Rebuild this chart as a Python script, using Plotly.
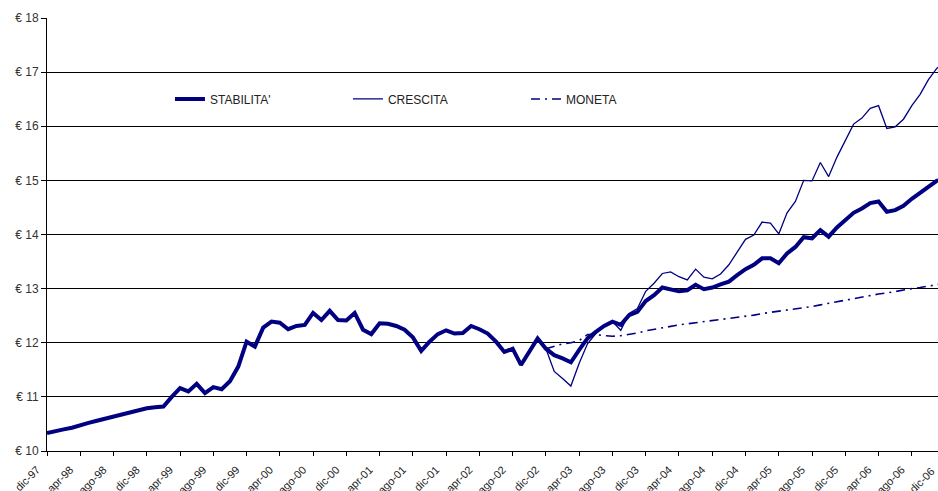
import plotly.graph_objects as go

# ---------------- data ----------------
MESI = ['gen', 'feb', 'mar', 'apr', 'mag', 'giu', 'lug', 'ago', 'set', 'ott', 'nov', 'dic']
ANNI = [98, 99, 0, 1, 2, 3, 4, 5, 6]
mesi_labels = ['dic-97'] + [f"{m}-{a:02d}" for a in ANNI for m in MESI]   # dic-97 .. dic-06

stabilita = [
    10.33, 10.37, 10.40, 10.43, 10.48, 10.52, 10.56, 10.60, 10.64, 10.68,
    10.72, 10.75, 10.79, 10.81, 10.82, 11.00, 11.16, 11.10, 11.24, 11.07,
    11.18, 11.14, 11.29, 11.56, 12.02, 11.93, 12.28, 12.39, 12.37, 12.25,
    12.31, 12.33, 12.55, 12.42, 12.59, 12.42, 12.41, 12.55, 12.24, 12.16,
    12.36, 12.35, 12.31, 12.24, 12.10, 11.85, 12.02, 12.16, 12.23, 12.17,
    12.18, 12.31, 12.25, 12.17, 12.02, 11.83, 11.89, 11.59, 11.84, 12.08,
    11.89, 11.77, 11.71, 11.64, 11.87, 12.08, 12.20, 12.31, 12.39, 12.33,
    12.51, 12.57, 12.77, 12.88, 13.02, 12.99, 12.95, 12.97, 13.07, 12.99,
    13.02, 13.08, 13.13, 13.25, 13.36, 13.44, 13.56, 13.56, 13.47, 13.65,
    13.77, 13.95, 13.93, 14.08, 13.96, 14.13, 14.27, 14.40, 14.48, 14.58,
    14.61, 14.42, 14.45, 14.53, 14.66, 14.77, 14.90, 14.99, 15.04,
]

# CRESCITA and MONETA start at dic-02
crescita_labels = mesi_labels[60:]
crescita = [
    11.89, 11.47, 11.34, 11.20, 11.62, 11.98, 12.17, 12.31, 12.39, 12.23,
    12.54, 12.63, 12.95, 13.10, 13.28, 13.31, 13.22, 13.16, 13.36, 13.21,
    13.18, 13.27, 13.44, 13.68, 13.91, 13.99, 14.23, 14.21, 14.01, 14.40,
    14.61, 15.00, 14.99, 15.33, 15.07, 15.43, 15.74, 16.04, 16.15, 16.33,
    16.38, 15.96, 15.99, 16.13, 16.38, 16.59, 16.86, 17.07, 17.20,
]
moneta = [
    11.89, 11.93, 11.98, 12.00, 12.04, 12.15, 12.15, 12.13, 12.12, 12.13,
    12.15, 12.18, 12.22, 12.25, 12.28, 12.31, 12.33, 12.35, 12.37, 12.39,
    12.40, 12.42, 12.44, 12.46, 12.48, 12.51, 12.54, 12.56, 12.58, 12.60,
    12.63, 12.65, 12.67, 12.70, 12.73, 12.76, 12.78, 12.81, 12.84, 12.87,
    12.90, 12.92, 12.95, 12.97, 13.00, 13.02, 13.05, 13.08, 13.10,
]

tick_labels = mesi_labels[::4]          # dic-97, apr-98, ago-98, ...
y_ticks = [10, 11, 12, 13, 14, 15, 16, 17, 18]

# ---------------- style ----------------
NAVY = '#000080'
FONT = 'Arial, Liberation Sans, sans-serif'
W, H = 938, 491
ML, MT, MB, MR = 47, 18, 40, 0
X_MAX = 107.15
LBL_SHIFT, LBL_STANDOFF = -10, 3
XLBL_SIZE = 11

fig = go.Figure()
fig.add_trace(go.Scatter(x=mesi_labels, y=stabilita, name="STABILITA'", mode='lines',
                         line=dict(color=NAVY, width=4)))
fig.add_trace(go.Scatter(x=crescita_labels, y=crescita, name='CRESCITA', mode='lines',
                         line=dict(color=NAVY, width=1.3)))
fig.add_trace(go.Scatter(x=crescita_labels, y=moneta, name='MONETA', mode='lines',
                         line=dict(color=NAVY, width=1.6, dash='9px,5px,2px,5px')))

# last tick label (dic-06) falls just beyond the visible axis range: draw it as text
last_idx = mesi_labels.index(tick_labels[-1])
plot_w = W - ML - MR
plot_h = H - MT - MB
px_per = plot_w / X_MAX
end_px = last_idx * px_per + LBL_SHIFT
fig.add_annotation(text=tick_labels[-1], xref='paper', yref='paper',
                   x=(end_px - 13) / plot_w, y=-29 / plot_h,
                   showarrow=False, textangle=-45, xanchor='center', yanchor='middle',
                   font=dict(family=FONT, size=XLBL_SIZE, color='#222'))

fig.update_layout(
    width=W, height=H,
    margin=dict(l=ML, r=MR, t=MT, b=MB, pad=0, autoexpand=False),
    paper_bgcolor='white', plot_bgcolor='white',
    font=dict(family=FONT, size=12, color='#222'),
    showlegend=True,
    legend=dict(orientation='h', x=0.138, y=0.813, xanchor='left', yanchor='middle',
                entrywidth=133, entrywidthmode='pixels',
                font=dict(family=FONT, size=12, color='#222'),
                bgcolor='rgba(0,0,0,0)', itemwidth=30),
)
fig.update_xaxes(type='category', range=[0, X_MAX], tickmode='array', tickvals=tick_labels,
                 ticktext=tick_labels, tickangle=-45, ticks='outside', ticklen=4,
                 tickcolor='black', showline=True, linecolor='black', linewidth=1,
                 ticklabelshift=LBL_SHIFT, ticklabelstandoff=LBL_STANDOFF, automargin=False,
                 showgrid=False, zeroline=False,
                 tickfont=dict(family=FONT, size=XLBL_SIZE, color='#222'))
fig.update_yaxes(range=[10, 18], tickmode='array', tickvals=y_ticks,
                 ticktext=[f"€ {v}" for v in y_ticks], ticks='outside', ticklen=5,
                 tickcolor='black', showline=True, linecolor='black', linewidth=1,
                 showgrid=True, gridcolor='black', gridwidth=1, zeroline=False, automargin=False,
                 tickfont=dict(family=FONT, size=12, color='#333'))

fig.write_html('out.html')
